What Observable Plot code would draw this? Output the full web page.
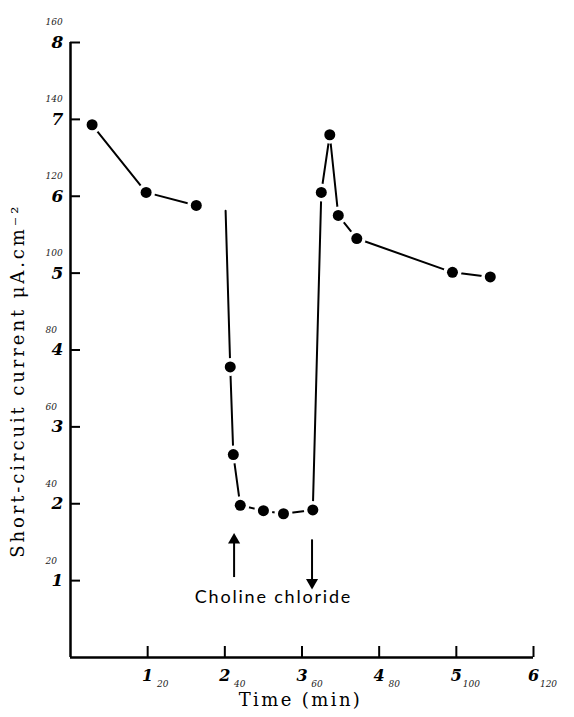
<!DOCTYPE html>
<html>
<head>
<meta charset="utf-8">
<script src="https://cdn.jsdelivr.net/npm/d3@7"></script>
<script src="https://cdn.jsdelivr.net/npm/@observablehq/plot@0.6"></script>
<style>
  html, body { margin: 0; padding: 0; background: #fff; }
</style>
</head>
<body>
<div id="chart"></div>
<script>
// Data
const times    = [0.28, 0.98, 1.63, 2.01, 2.07, 2.11, 2.20, 2.50, 2.76, 3.14, 3.25, 3.36, 3.47, 3.71, 4.95, 5.44];
const currents = [6.93, 6.05, 5.88, 5.81, 3.78, 2.64, 1.98, 1.91, 1.87, 1.92, 6.05, 6.80, 5.75, 5.45, 5.01, 4.95];
const segments = [1, 1, 1, 2, 2, 2, 2, 2, 2, 2, 2, 2, 2, 2, 2, 2];
const measured = [true, true, true, false, true, true, true, true, true, true, true, true, true, true, true, true];

const yTicks = [1, 2, 3, 4, 5, 6, 7, 8];
const yTickNotes = ["20", "40", "60", "80", "100", "120", "140", "160"];
const xTicks = [1, 2, 3, 4, 5, 6];
const xTickNotes = ["20", "40", "60", "80", "100", "120"];

// Choline chloride markers (up = added, down = removed)
const arrowTimes = [2.12, 3.13];
const arrowFrom  = [1.04, 1.53];
const arrowTo    = [1.53, 0.975];
const arrowRotate = [0, 180];
const annotation = "Choline chloride";
const annotationTime = 2.63;
const annotationLevel = 0.78;

const yLabel = "Short-circuit current μA.cm⁻²";
const xLabel = "Time (min)";

const rows = times.map((t, i) => ({t, c: currents[i], seg: segments[i], m: measured[i]}));
const pts = rows.filter(d => d.m);
const arrows = arrowTimes.map((x, i) => ({x, y1: arrowFrom[i], y2: arrowTo[i], rot: arrowRotate[i]}));

const serif = "DejaVu Serif, serif";

const chart = Plot.plot({
  width: 574,
  height: 717,
  marginLeft: 70,
  marginRight: 41,
  marginTop: 42,
  marginBottom: 60,
  style: {fontFamily: serif, background: "white", color: "black"},
  x: {domain: [0, 6], axis: null},
  y: {domain: [0, 8], axis: null},
  marks: [
    // axis lines
    Plot.ruleX([0], {stroke: "black", strokeWidth: 2.5}),
    Plot.ruleY([0], {stroke: "black", strokeWidth: 2.5}),
    // inward ticks
    Plot.axisY(yTicks, {anchor: "left", tickSize: -10, strokeWidth: 2, tickFormat: () => "", label: null}),
    Plot.axisX(xTicks, {anchor: "bottom", tickSize: -11, strokeWidth: 2, tickFormat: () => "", label: null}),
    // y tick labels
    Plot.text(yTicks, {y: d => d, text: d => String(d), frameAnchor: "left", dx: -19, fontSize: 17, fontWeight: "bold", fontStyle: "italic", fill: "black"}),
    Plot.text(yTicks, {y: d => d, text: (d, i) => yTickNotes[i], frameAnchor: "left", dx: -25, dy: -20, fontSize: 9, fontStyle: "italic", fill: "#222"}),
    // x tick labels
    Plot.text(xTicks, {x: d => d, text: d => String(d), frameAnchor: "bottom", dy: 23, fontSize: 16, fontWeight: "bold", fontStyle: "italic", fill: "black"}),
    Plot.text(xTicks, {x: d => d, text: (d, i) => xTickNotes[i], frameAnchor: "bottom", dx: 15, dy: 29, fontSize: 9, fontStyle: "italic", fill: "#222"}),
    // data line
    Plot.line(rows, {x: "t", y: "c", z: "seg", stroke: "black", strokeWidth: 2}),
    // halos and dots
    Plot.dot(pts, {x: "t", y: "c", r: 9, fill: "white"}),
    Plot.dot(pts, {x: "t", y: "c", r: 5.5, fill: "black"}),
    // arrows
    Plot.ruleX(arrows, {x: "x", y1: "y1", y2: "y2", stroke: "black", strokeWidth: 2}),
    Plot.dot(arrows, {x: "x", y: "y2", symbol: "triangle", rotate: "rot", r: 4.5, fill: "black", stroke: "none"}),
    Plot.text([annotation], {x: annotationTime, y: annotationLevel, text: d => d, fontSize: 18, fontFamily: "Lato, sans-serif", fill: "black"}),
    // axis titles
    Plot.text([yLabel], {y: 3.6, frameAnchor: "left", textAnchor: "middle", dx: -52, rotate: -90, text: d => d, fontSize: 18, fill: "black"}),
    Plot.text([xLabel], {x: 2.98, frameAnchor: "bottom", dy: 48, text: d => d, fontSize: 18, fill: "black"})
  ]
});

const spacing = new Map([[annotation, "1.8px"], [yLabel, "2.9px"], [xLabel, "2.4px"]]);
d3.select(chart).selectAll("text").each(function () {
  const s = spacing.get(this.textContent);
  if (s) this.setAttribute("letter-spacing", s);
});

document.getElementById("chart").appendChild(chart);
</script>
</body>
</html>
